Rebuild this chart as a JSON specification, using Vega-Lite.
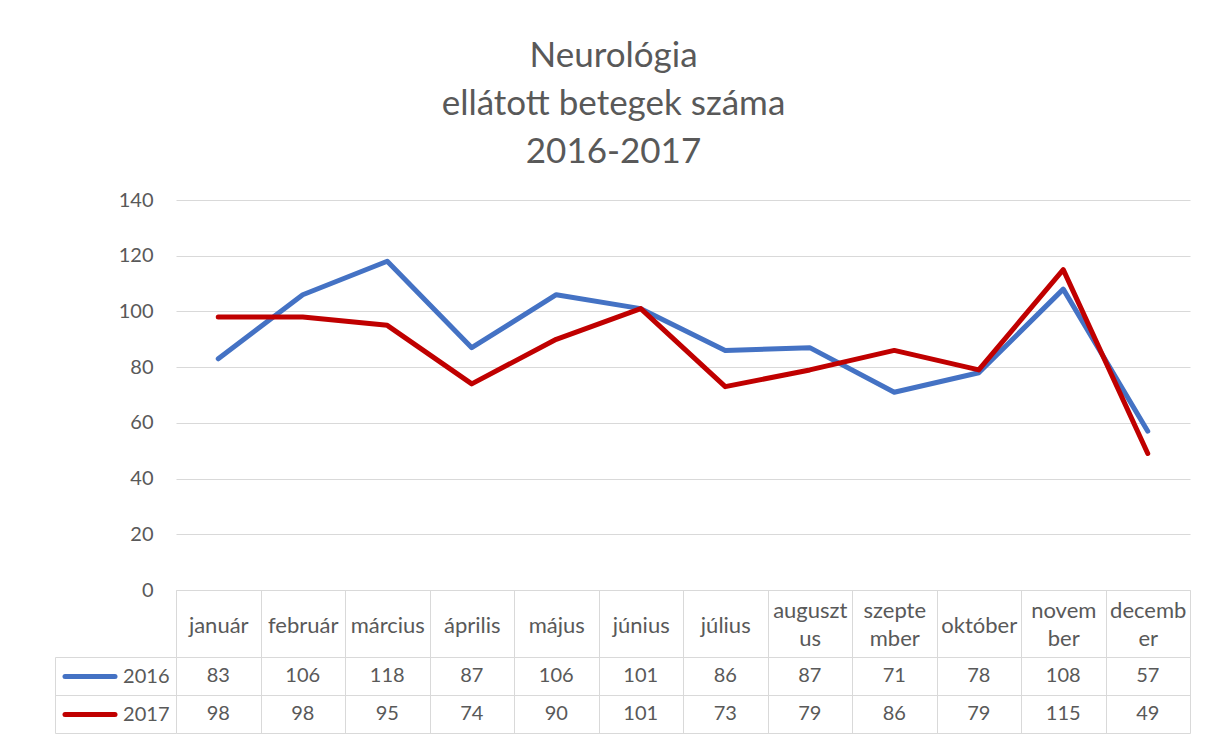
{
  "$schema": "https://vega.github.io/schema/vega-lite/v6.json",
  "padding": {"left": 54, "top": 39, "right": 10, "bottom": 0},
  "title": {
    "text": ["Neurológia", "ellátott betegek száma", "2016-2017"],
    "font": "Lato", "fontSize": 35, "fontWeight": "normal", "color": "#595959",
    "lineHeight": 48, "anchor": "middle", "offset": 20, "dx": -9
  },
  "datasets": {
    "d": [
      {"month": "január", "year": "2016", "value": 83},
      {"month": "február", "year": "2016", "value": 106},
      {"month": "március", "year": "2016", "value": 118},
      {"month": "április", "year": "2016", "value": 87},
      {"month": "május", "year": "2016", "value": 106},
      {"month": "június", "year": "2016", "value": 101},
      {"month": "július", "year": "2016", "value": 86},
      {"month": "augusztus", "year": "2016", "value": 87},
      {"month": "szeptember", "year": "2016", "value": 71},
      {"month": "október", "year": "2016", "value": 78},
      {"month": "november", "year": "2016", "value": 108},
      {"month": "december", "year": "2016", "value": 57},
      {"month": "január", "year": "2017", "value": 98},
      {"month": "február", "year": "2017", "value": 98},
      {"month": "március", "year": "2017", "value": 95},
      {"month": "április", "year": "2017", "value": 74},
      {"month": "május", "year": "2017", "value": 90},
      {"month": "június", "year": "2017", "value": 101},
      {"month": "július", "year": "2017", "value": 73},
      {"month": "augusztus", "year": "2017", "value": 79},
      {"month": "szeptember", "year": "2017", "value": 86},
      {"month": "október", "year": "2017", "value": 79},
      {"month": "november", "year": "2017", "value": 115},
      {"month": "december", "year": "2017", "value": 49}
    ]
  },
  "bounds": "flush",
  "spacing": 67,
  "vconcat": [
    {
      "width": 1014,
      "height": 390,
      "data": {"name": "d"},
      "mark": {"type": "line", "strokeWidth": 5, "strokeCap": "round", "strokeJoin": "round"},
      "encoding": {
        "x": {
          "field": "month", "type": "ordinal", "bandPosition": 0.5,
          "sort": ["január","február","március","április","május","június","július","augusztus","szeptember","október","november","december"],
          "scale": {"type": "band", "paddingInner": 0, "paddingOuter": 0},
          "axis": {
            "title": null, "domain": true, "domainColor": "#D9D9D9", "domainWidth": 1,
            "ticks": true, "tickBand": "extent", "tickSize": 67, "tickColor": "#D9D9D9", "tickWidth": 1,
            "labelAngle": 0, "labelBaseline": "middle", "labelLineHeight": 28,
            "labelPadding": {"condition": {"test": "indexof(['augusztus','szeptember','november','december'], datum.value) >= 0", "value": -46.5}, "value": -31.5},
            "labelFontSize": 22,
            "labelOverlap": false, "labelFlush": false, "grid": false,
            "labelExpr": "datum.label == 'augusztus' ? ['auguszt','us'] : datum.label == 'szeptember' ? ['szepte','mber'] : datum.label == 'november' ? ['novem','ber'] : datum.label == 'december' ? ['decemb','er'] : datum.label"
          }
        },
        "y": {
          "field": "value", "type": "quantitative",
          "scale": {"domain": [0, 140], "nice": false},
          "axis": {
            "title": null, "values": [0, 20, 40, 60, 80, 100, 120, 140],
            "domain": false, "ticks": false, "grid": true, "gridColor": "#D9D9D9", "gridWidth": 1,
            "labelPadding": 23
          }
        },
        "color": {
          "field": "year", "type": "nominal",
          "scale": {"domain": ["2016", "2017"], "range": ["#4472C4", "#C00000"]},
          "legend": null
        }
      }
    },
    {
      "width": 1014,
      "height": 76,
      "data": {"name": "d"},
      "resolve": {"scale": {"y": "independent"}, "axis": {"y": "independent"}},
      "layer": [
        {
          "mark": {"type": "text", "fontSize": 20, "font": "Lato", "color": "#595959"},
          "encoding": {
            "x": {
              "field": "month", "type": "ordinal",
              "sort": ["január","február","március","április","május","június","július","augusztus","szeptember","október","november","december"],
              "scale": {"type": "band", "paddingInner": 0, "paddingOuter": 0},
              "axis": {
                "title": null, "labels": false, "ticks": false, "domain": false,
                "grid": true, "tickBand": "extent", "gridColor": "#D9D9D9", "gridWidth": 1
              }
            },
            "y": {
              "field": "year", "type": "nominal",
              "scale": {"type": "band", "domain": ["2016", "2017"], "paddingInner": 0, "paddingOuter": 0},
              "axis": {
                "title": null, "orient": "left", "domain": false,
                "grid": true, "gridColor": "#D9D9D9", "gridWidth": 1, "tickBand": "extent",
                "ticks": true, "tickSize": 121, "tickColor": "#D9D9D9", "tickWidth": 1,
                "labelPadding": -114, "labelAlign": "right", "labelBaseline": "middle"
              }
            },
            "text": {"field": "value", "type": "quantitative"}
          }
        },
        {
          "mark": {"type": "text", "opacity": 0},
          "encoding": {
            "y": {
              "field": "year", "type": "nominal",
              "scale": {"type": "band", "domain": ["2016", "2017"], "paddingInner": 0, "paddingOuter": 0},
              "axis": {
                "title": null, "orient": "left", "offset": 61.5, "domain": false, "grid": false,
                "labels": false, "ticks": true, "tickSize": 50, "tickWidth": 5, "tickCap": "round",
                "tickColor": {"condition": {"test": "datum.value === '2016'", "value": "#4472C4"}, "value": "#C00000"}
              }
            }
          }
        },
        {
          "mark": {"type": "text", "opacity": 0},
          "encoding": {
            "y": {
              "field": "year", "type": "nominal",
              "scale": {"type": "band", "domain": ["2016", "2017"], "paddingInner": 0, "paddingOuter": 0},
              "axis": {
                "title": null, "orient": "left", "offset": 121, "domain": true, "domainColor": "#D9D9D9",
                "domainWidth": 1, "grid": false, "labels": false, "ticks": false
              }
            }
          }
        }
      ]
    }
  ],
  "config": {
    "font": "Lato",
    "view": {"stroke": null},
    "axis": {"labelFont": "Lato", "labelFontSize": 20, "labelColor": "#595959"}
  }
}
